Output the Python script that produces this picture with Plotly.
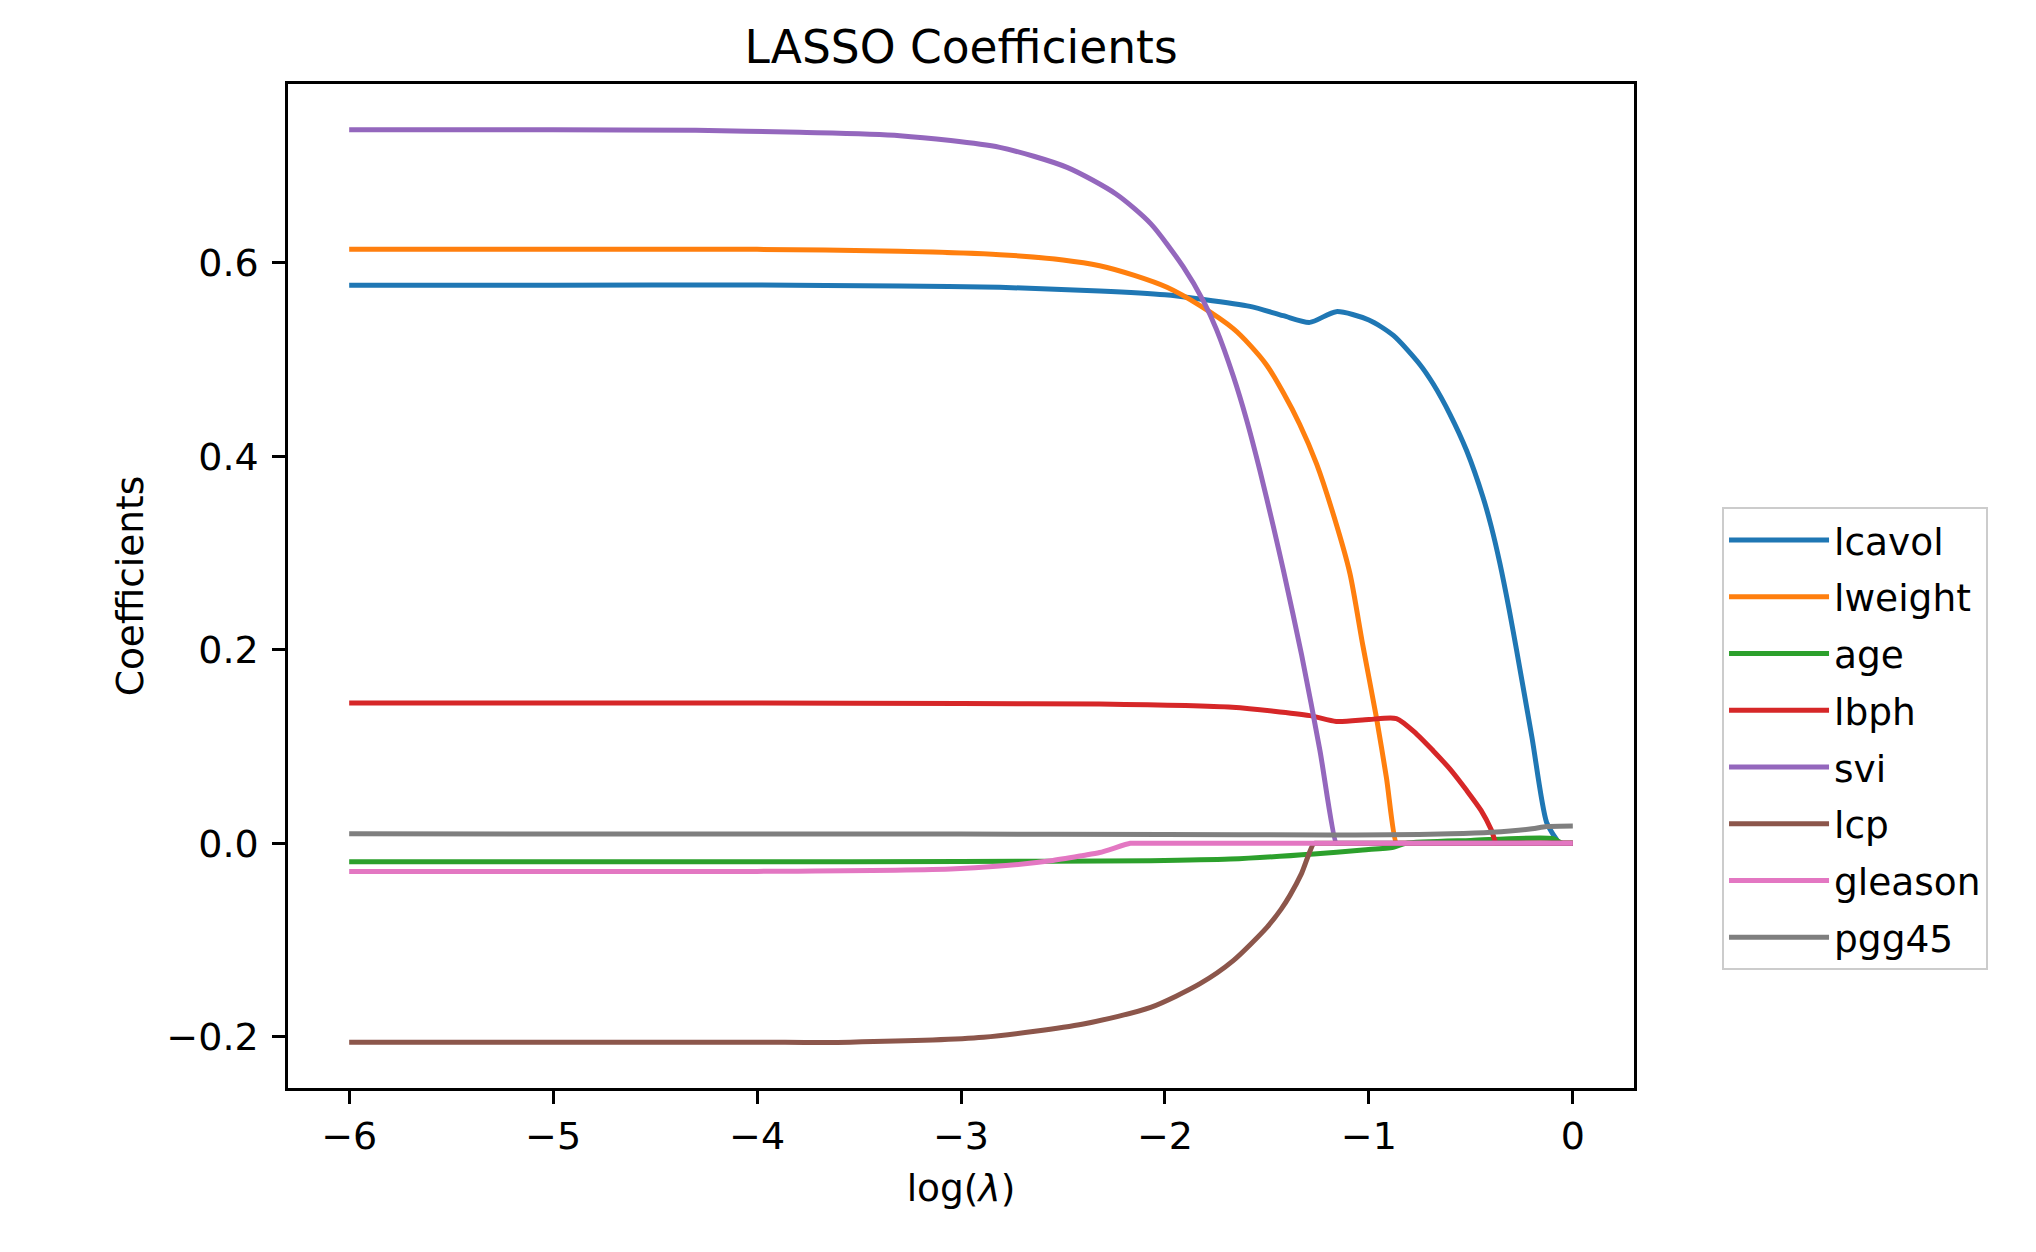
import plotly.graph_objects as go

# ---------------- data ----------------
features = ["lcavol", "lweight", "age", "lbph", "svi", "lcp", "gleason", "pgg45"]
colors = ["#1f77b4", "#ff7f0e", "#2ca02c", "#d62728", "#9467bd", "#8c564b", "#e377c2", "#7f7f7f"]

lcavol_x = [-6, -5, -4, -3.3, -2.81, -2.32, -2.0, -1.83, -1.583, -1.42, -1.29, -1.16, -1.0, -0.88, -0.75,
            -0.685, -0.603, -0.52, -0.44, -0.40, -0.358, -0.312, -0.276, -0.2, -0.129, -0.08, -0.065, -0.05, 0]
lcavol_y = [0.577, 0.577, 0.5772, 0.576, 0.5747, 0.571, 0.567, 0.5627, 0.555, 0.5454, 0.5385, 0.5496, 0.541,
            0.525, 0.495, 0.475, 0.4437, 0.4055, 0.3575, 0.3275, 0.2897, 0.2414, 0.200, 0.109, 0.022, 0.004,
            0.0, 0.0, 0.0]

lweight_x = [-6, -5, -4, -3.3, -2.81, -2.5, -2.32, -2.15, -1.99, -1.83, -1.665, -1.583, -1.50, -1.42, -1.34,
             -1.256, -1.17, -1.093, -1.03, -0.963, -0.914, -0.865, -0.85, 0]
lweight_y = [0.6142, 0.6142, 0.614, 0.612, 0.6085, 0.603, 0.597, 0.587, 0.5747, 0.556, 0.532, 0.515, 0.494,
             0.466, 0.4335, 0.392, 0.337, 0.279, 0.205, 0.130, 0.068, 0.0, 0.0, 0.0]

age_x = [-6, -4, -3, -2.07, -1.68, -1.27, -1.03, -0.88, -0.82, -0.5, -0.1, -0.05, 0]
age_y = [-0.019, -0.019, -0.0188, -0.0179, -0.0163, -0.011, -0.0068, -0.004, 0.0, 0.003, 0.005, 0.0, 0.0]

lbph_x = [-6, -4, -3, -2.32, -1.67, -1.29, -1.16, -1.0, -0.865, -0.766, -0.685, -0.603, -0.52, -0.45,
          -0.40, -0.375, -0.36, 0]
lbph_y = [0.145, 0.145, 0.1445, 0.144, 0.1406, 0.132, 0.126, 0.128, 0.129, 0.113, 0.0958, 0.0769, 0.0545,
          0.034, 0.014, 0.0, 0.0, 0.0]

svi_x = [-6, -5, -4.3, -3.79, -3.3, -2.81, -2.48, -2.24, -2.07, -1.91, -1.81, -1.747, -1.665, -1.60,
         -1.534, -1.469, -1.42, -1.33, -1.24, -1.16, -1.15, 0]
svi_y = [0.7377, 0.7376, 0.737, 0.7349, 0.7315, 0.7194, 0.6987, 0.6712, 0.6406, 0.5958, 0.560, 0.531,
         0.483, 0.438, 0.385, 0.328, 0.283, 0.195, 0.096, 0.0, 0.0, 0.0]

lcp_x = [-6, -4, -3.544, -2.89, -2.40, -2.07, -1.83, -1.665, -1.50, -1.43, -1.387, -1.33, -1.27, -1.255, 0]
lcp_y = [-0.2057, -0.2057, -0.2055, -0.2005, -0.1867, -0.1695, -0.1453, -0.1212, -0.0868, -0.068, -0.0538,
         -0.031, 0.0, 0.0, 0.0]

gleason_x = [-6, -4, -3.05, -2.81, -2.56, -2.40, -2.32, -2.17, -2.15, 0]
gleason_y = [-0.0292, -0.029, -0.0265, -0.0235, -0.018, -0.0125, -0.0095, 0.0, 0.0, 0.0]

pgg45_x = [-6, -3, -2, -1.2, -0.9, -0.6, -0.4, -0.2, -0.13, 0]
pgg45_y = [0.0098, 0.0096, 0.0092, 0.0087, 0.0088, 0.0098, 0.0114, 0.015, 0.0173, 0.018]

x_tick_vals = [-6, -5, -4, -3, -2, -1, 0]
x_tick_text = ["\u22126", "\u22125", "\u22124", "\u22123", "\u22122", "\u22121", "0"]
y_tick_vals = [-0.2, 0.0, 0.2, 0.4, 0.6]
y_tick_text = ["\u22120.2", "0.0", "0.2", "0.4", "0.6"]

series_x = [lcavol_x, lweight_x, age_x, lbph_x, svi_x, lcp_x, gleason_x, pgg45_x]
series_y = [lcavol_y, lweight_y, age_y, lbph_y, svi_y, lcp_y, gleason_y, pgg45_y]

# ---------------- figure ----------------
FONT = "DejaVu Sans"
fig = go.Figure()
for name, col, xs, ys in zip(features, colors, series_x, series_y):
    fig.add_trace(go.Scatter(
        x=xs, y=ys, mode="lines", name=name, legendgroup=name,
        line=dict(color=col, width=5, shape="spline", smoothing=0.7),
    ))

W, H = 2036, 1252
ml, mr, mt, mb = 288, 402, 84, 164

axis_common = dict(
    showline=True, linewidth=2.5, linecolor="black", mirror=True,
    ticks="outside", ticklen=13, tickwidth=2.5, tickcolor="black",
    showgrid=False, zeroline=False,
    tickfont=dict(family=FONT, size=38, color="black"),
)

fig.update_layout(
    width=W, height=H,
    margin=dict(l=ml, r=mr, t=mt, b=mb),
    paper_bgcolor="white", plot_bgcolor="white",
    font=dict(family=FONT, color="black"),
    title=dict(text="LASSO Coefficients", x=0.5, xref="paper", xanchor="center",
               y=1 - 47 / H, yref="container", yanchor="middle",
               font=dict(family=FONT, size=45.5, color="black")),
    xaxis=dict(range=[-6.3, 0.3], tickvals=x_tick_vals, ticktext=x_tick_text,
               ticklabelstandoff=0,
               title=dict(text="log(<i>\u03bb</i>)", standoff=18,
                          font=dict(family=FONT, size=37.5, color="black")),
               **axis_common),
    yaxis=dict(range=[-0.2529, 0.7849], tickvals=y_tick_vals, ticktext=y_tick_text,
               ticklabelstandoff=6,
               title=dict(text="Coefficients", standoff=12,
                          font=dict(family=FONT, size=37.5, color="black")),
               **axis_common),
    legend=dict(x=1.0654, xanchor="left", y=0.348, yanchor="middle",
                bgcolor="white", bordercolor="#cccccc", borderwidth=2,
                font=dict(family=FONT, size=37.5, color="black"),
                itemwidth=100, tracegroupgap=5, traceorder="grouped"),
    showlegend=True,
)

fig.write_html("out.html")
